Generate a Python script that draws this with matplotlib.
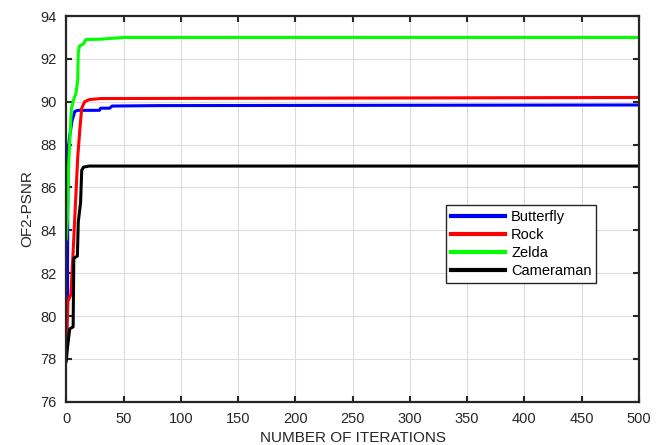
import matplotlib.pyplot as plt
import numpy as np

plt.rcParams['font.family'] = ['Liberation Sans', 'DejaVu Sans']

# convergence curves (iteration, OF2-PSNR)
butterfly_it = [0, 1, 1.5, 3, 5, 7.5, 10, 29, 30, 38, 40, 80, 500]
butterfly_v = [78.3, 80.5, 87.6, 88.4, 89.1, 89.55, 89.6, 89.6, 89.7, 89.7, 89.8, 89.82, 89.85]

rock_it = [0, 1, 1.5, 4, 6, 8, 10, 12, 13.5, 16, 20, 30, 500]
rock_v = [78.6, 80.0, 80.7, 81.0, 83.0, 85.2, 87.4, 88.8, 89.7, 90.0, 90.1, 90.15, 90.2]

zelda_it = [0, 1, 2, 4.5, 7, 8.5, 10, 10.5, 11.5, 15, 17, 30, 50, 500]
zelda_v = [83.6, 84.5, 87.0, 89.7, 90.2, 90.4, 91.0, 92.3, 92.6, 92.7, 92.9, 92.92, 93.0, 93.0]

camera_it = [0, 1, 3, 6, 6.6, 9.7, 10.5, 12.5, 13.5, 15, 20, 500]
camera_v = [77.9, 78.5, 79.4, 79.5, 82.7, 82.8, 84.4, 85.3, 86.8, 86.95, 87.0, 87.0]

series = [
    ("Butterfly", butterfly_it, butterfly_v, "#0000ff"),
    ("Rock", rock_it, rock_v, "#ff0000"),
    ("Zelda", zelda_it, zelda_v, "#00ff00"),
    ("Cameraman", camera_it, camera_v, "#000000"),
]

fig = plt.figure(figsize=(6.56, 4.45), dpi=100)
ax = fig.add_axes([0.101, 0.097, 0.873, 0.867])

for name, it, v, c in series:
    ax.plot(it, v, color=c, lw=2.2, label=name)

ax.set_xlim(0, 500)
ax.set_ylim(76, 94)
ax.set_xticks(np.arange(0, 501, 50))
ax.set_yticks(np.arange(76, 95, 2))
ax.grid(True, color="#dddddd", lw=0.8)
ax.tick_params(direction="in", top=True, right=True, labelsize=10.5,
               width=1.5, length=4, colors="#262626", pad=7)
for s in ax.spines.values():
    s.set_linewidth(1.6)
    s.set_color("#262626")

ax.set_xlabel("NUMBER OF ITERATIONS", fontsize=11, color="#262626", labelpad=4)
ax.set_ylabel("OF2-PSNR", fontsize=11, color="#262626", labelpad=4)

leg = ax.legend(loc="upper left", bbox_to_anchor=(0.663, 0.51), fontsize=10.5,
                fancybox=False, framealpha=1, edgecolor="#262626",
                handlelength=3.7, handletextpad=0.45, borderpad=0.32,
                labelspacing=0.28, borderaxespad=0)
leg.get_frame().set_linewidth(1.0)
for l in leg.get_lines():
    l.set_linewidth(3)

fig.savefig("out.png", dpi=100)
